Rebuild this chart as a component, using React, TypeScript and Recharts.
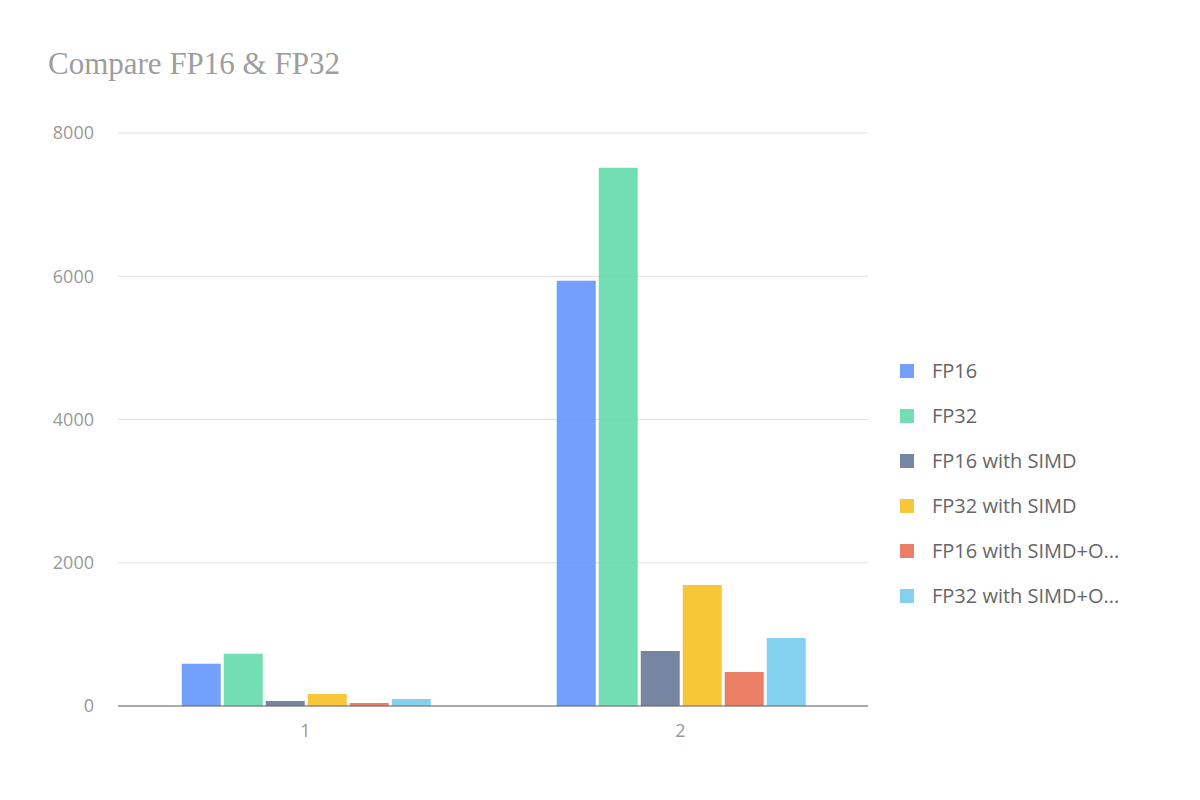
import { BarChart, Bar, XAxis, YAxis, CartesianGrid } from "recharts";

const categories = ["1", "2"];
const seriesNames = [
  "FP16",
  "FP32",
  "FP16 with SIMD",
  "FP32 with SIMD",
  "FP16 with SIMD+OpenMP",
  "FP32 with SIMD+OpenMP",
];
const group1 = [590, 730, 70, 168, 42, 98];
const group2 = [5936, 7514, 768, 1690, 475, 950];
const yTicks = [0, 2000, 4000, 6000, 8000];

const COLORS = ["#5B8FF9", "#5AD8A6", "#5D7092", "#F6BD16", "#E8684A", "#6DC8EC"];

const chartData = categories.map((c, ci) => {
  const vals = ci === 0 ? group1 : group2;
  const row: Record<string, string | number> = { name: c };
  seriesNames.forEach((s, i) => (row[`s${i}`] = vals[i]));
  return row;
});

const trunc = (s: string) => (s.length > 16 ? s.slice(0, 16) + "..." : s);

function LegendBox() {
  return (
    <div style={{ position: "absolute", left: 900, top: 348, fontFamily: "'Open Sans', sans-serif", fontSize: 20, color: "#666" }}>
      {seriesNames.map((s, i) => (
        <div key={s} style={{ display: "flex", alignItems: "center", height: 45 }}>
          <span style={{ width: 14, height: 14, background: COLORS[i], opacity: 0.85, marginRight: 18 }} />
          {trunc(s)}
        </div>
      ))}
    </div>
  );
}

export default function App() {
  return (
    <div style={{ position: "relative", width: 1200, height: 800, margin: -8, background: "#fff" }}>
      <div style={{ position: "absolute", left: 48, top: 46, fontFamily: "'Liberation Serif', serif", fontSize: 31, color: "#9e9e9e" }}>
        Compare FP16 &amp; FP32
      </div>
      <BarChart
        width={1200}
        height={800}
        data={chartData}
        margin={{ top: 133, right: 332, bottom: 54, left: 0 }}
        barCategoryGap="17%"
        barGap={3}
      >
        <CartesianGrid vertical={false} stroke="#e0e0e0" />
        <XAxis
          dataKey="name"
          height={40}
          tickLine={false}
          axisLine={{ stroke: "#666" }}
          tick={{ fontSize: 18, fill: "#999", fontFamily: "'Open Sans', sans-serif" }}
          tickMargin={12}
        />
        <YAxis
          width={118}
          domain={[0, 8000]}
          ticks={yTicks}
          axisLine={false}
          tickLine={false}
          tickMargin={18}
          tick={{ fontSize: 18, fill: "#999", fontFamily: "'Open Sans', sans-serif" }}
        />
        {seriesNames.map((s, i) => (
          <Bar key={s} dataKey={`s${i}`} name={s} fill={COLORS[i]} fillOpacity={0.85} isAnimationActive={false} />
        ))}
      </BarChart>
      <LegendBox />
    </div>
  );
}
